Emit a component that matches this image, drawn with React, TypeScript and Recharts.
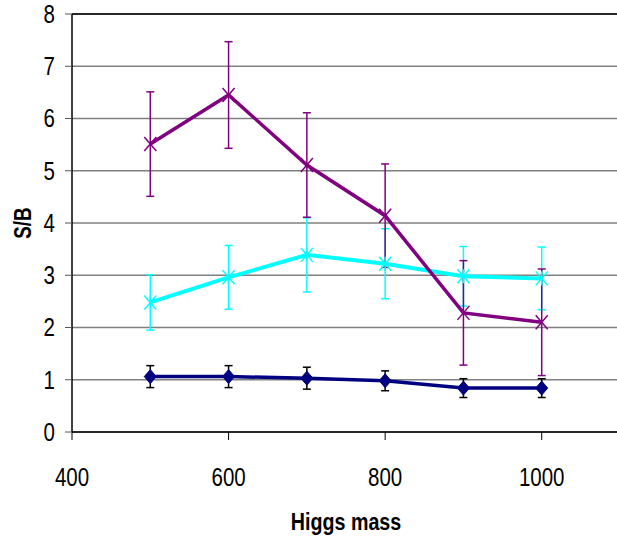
import React from 'react';
import { LineChart, Line, XAxis, YAxis, CartesianGrid, ErrorBar, ReferenceLine, Label } from 'recharts';

const masses = [500, 600, 700, 800, 900, 1000];
const navyValues = [1.06, 1.06, 1.03, 0.98, 0.84, 0.84];
const navyErrors = [0.21, 0.21, 0.21, 0.19, 0.18, 0.18];
const cyanValues = [2.48, 2.96, 3.39, 3.22, 2.98, 2.94];
const cyanErrors = [0.53, 0.61, 0.71, 0.67, 0.57, 0.6];
const purpleValues = [5.51, 6.45, 5.11, 4.14, 2.28, 2.1];
const purpleErrors = [1.0, 1.02, 1.0, 0.99, 1.0, 1.02];
const xTicks = [400, 600, 800, 1000];
const yTicks = [0, 1, 2, 3, 4, 5, 6, 7, 8];

const data = masses.map((m, i) => ({
  mass: m,
  navy: navyValues[i],
  navyErr: navyErrors[i],
  cyan: cyanValues[i],
  cyanErr: cyanErrors[i],
  purple: purpleValues[i],
  purpleErr: purpleErrors[i],
}));

const FONT = "'Liberation Sans', Arial, sans-serif";
const NARROW = 0.82;

const NAVY = '#000080';
const CYAN = '#00FFFF';
const PURPLE = '#800080';

const DiamondDot = (p: any) => {
  const { cx, cy, index } = p;
  if (cx == null || cy == null) return <g key={index} />;
  return (
    <polygon
      key={index}
      points={`${cx},${cy - 7} ${cx + 6},${cy} ${cx},${cy + 7} ${cx - 6},${cy}`}
      fill={NAVY}
      stroke={NAVY}
      strokeWidth={1}
    />
  );
};

const StarDot = (p: any) => {
  const { cx, cy, index } = p;
  if (cx == null || cy == null) return <g key={index} />;
  return (
    <g key={index} stroke={CYAN} strokeWidth={1.5}>
      <line x1={cx - 6} y1={cy - 7} x2={cx + 6} y2={cy + 7} />
      <line x1={cx - 6} y1={cy + 7} x2={cx + 6} y2={cy - 7} />
      <line x1={cx} y1={cy - 7} x2={cx} y2={cy + 7} />
    </g>
  );
};

const CrossDot = (p: any) => {
  const { cx, cy, index } = p;
  if (cx == null || cy == null) return <g key={index} />;
  return (
    <g key={index} stroke={PURPLE} strokeWidth={1.5}>
      <line x1={cx - 6} y1={cy - 7} x2={cx + 6} y2={cy + 7} />
      <line x1={cx - 6} y1={cy + 7} x2={cx + 6} y2={cy - 7} />
    </g>
  );
};

const XTick = (props: any) => {
  const { x, y, payload } = props;
  return (
    <text
      transform={`translate(${x} ${y}) scale(${NARROW} 1)`}
      textAnchor="middle"
      dy="0.71em"
      fontFamily={FONT}
      fontSize={25}
      fill="#000"
    >
      {payload.value}
    </text>
  );
};

const YTick = (props: any) => {
  const { x, y, payload } = props;
  return (
    <text
      transform={`translate(${x} ${y}) scale(${NARROW} 1)`}
      textAnchor="end"
      dy="0.355em"
      fontFamily={FONT}
      fontSize={25}
      fill="#000"
    >
      {payload.value}
    </text>
  );
};

const XLabel = (props: any) => {
  const vb = props.viewBox || { x: 0, y: 0, width: 0, height: 0 };
  const x = vb.x + vb.width / 2;
  const y = vb.y + 98;
  return (
    <text
      transform={`translate(${x} ${y}) scale(${NARROW} 1)`}
      textAnchor="middle"
      fontFamily={FONT}
      fontWeight="bold"
      fontSize={24}
      fill="#000"
    >
      Higgs mass
    </text>
  );
};

const YLabel = (props: any) => {
  const vb = props.viewBox || { x: 0, y: 0, width: 0, height: 0 };
  const x = vb.x + 23;
  const y = vb.y + vb.height / 2;
  return (
    <text
      transform={`translate(${x} ${y}) rotate(-90) scale(${NARROW} 1)`}
      textAnchor="middle"
      dominantBaseline="central"
      fontFamily={FONT}
      fontWeight="bold"
      fontSize={23}
      fill="#000"
    >
      S/B
    </text>
  );
};

export default function App() {
  return (
    <div style={{ position: 'absolute', left: 0, top: 0 }}>
      <LineChart
        width={620}
        height={542}
        data={data}
        margin={{ top: 14, right: 0, bottom: 0, left: 0 }}
      >
        <CartesianGrid vertical={false} stroke="#808080" strokeWidth={1.5} />
        <ReferenceLine y={8} stroke="#000" strokeWidth={1.5} />
        <XAxis
          dataKey="mass"
          type="number"
          domain={[400, 1100]}
          ticks={xTicks}
          tickSize={8}
          tickMargin={28}
          height={110}
          axisLine={{ stroke: '#000', strokeWidth: 1.5 }}
          tickLine={{ stroke: '#000', strokeWidth: 1 }}
          tick={XTick}
          allowDataOverflow
        >
          <Label content={XLabel} />
        </XAxis>
        <YAxis
          type="number"
          domain={[0, 8]}
          ticks={yTicks}
          width={72}
          tickSize={7}
          tickMargin={10}
          axisLine={{ stroke: '#000', strokeWidth: 1.5 }}
          tickLine={{ stroke: '#555', strokeWidth: 1 }}
          tick={YTick}
          interval={0}
        >
          <Label content={YLabel} />
        </YAxis>
        <Line
          dataKey="navy"
          stroke={NAVY}
          strokeWidth={3.5}
          dot={DiamondDot}
          activeDot={false}
          isAnimationActive={false}
        >
          <ErrorBar dataKey="navyErr" direction="y" width={4} stroke="#000" strokeWidth={1.5} />
        </Line>
        <Line
          dataKey="cyan"
          stroke={CYAN}
          strokeWidth={4}
          dot={StarDot}
          activeDot={false}
          isAnimationActive={false}
        >
          <ErrorBar dataKey="cyanErr" direction="y" width={4} stroke={CYAN} strokeWidth={1.5} />
        </Line>
        <Line
          dataKey="purple"
          stroke={PURPLE}
          strokeWidth={3.5}
          dot={CrossDot}
          activeDot={false}
          isAnimationActive={false}
        >
          <ErrorBar dataKey="purpleErr" direction="y" width={4} stroke={PURPLE} strokeWidth={1.5} />
        </Line>
      </LineChart>
    </div>
  );
}
